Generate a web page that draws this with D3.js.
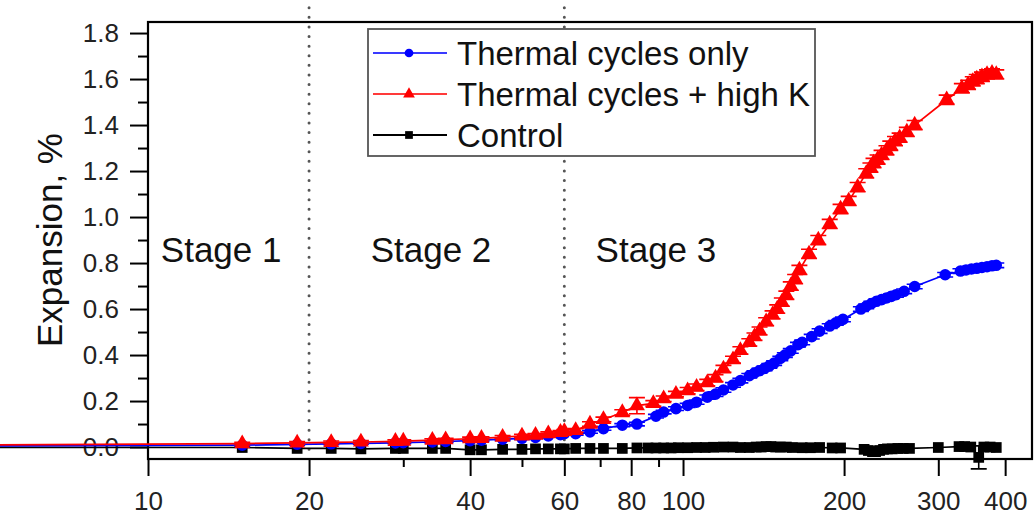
<!DOCTYPE html>
<html>
<head>
<meta charset="utf-8">
<script src="https://d3js.org/d3.v7.min.js"></script>
<style>
  body { margin: 0; background: #fff; }
  svg { display: block; font-family: "Liberation Sans", Arial, sans-serif; }
  .axis text { font-size: 26px; fill: #222; }
  .axis line { stroke: #000; stroke-width: 2px; }
  .axis path { display: none; }
</style>
</head>
<body>
<div id="chart"></div>
<script>

// x ticks (days, log scale)
const xMajorTicks = [10, 20, 40, 60, 80, 100, 200, 300, 400];
const xMinorTicks = [30, 50, 70, 90];
const yMajorTicks = [0.0, 0.2, 0.4, 0.6, 0.8, 1.0, 1.2, 1.4, 1.6, 1.8];
const yMinorTicks = [0.1, 0.3, 0.5, 0.7, 0.9, 1.1, 1.3, 1.5, 1.7];

const stageBounds = [20, 60];
const stageLabels = [["Stage 1", 13.7], ["Stage 2", 33.8], ["Stage 3", 89]];

const seriesNames = ["Thermal cycles only", "Thermal cycles + high K", "Control"];

// [day, expansion %, error]
const cyclesOnly = [
  [1, 0.0, 0], [15, 0.008, 0.004], [19, 0.012, 0.004], [22, 0.014, 0.004], [25, 0.016, 0.004],
  [29, 0.018, 0.004], [30, 0.019, 0.004], [34, 0.022, 0.004], [36, 0.024, 0.004], [40, 0.028, 0.005],
  [42, 0.03, 0.005], [46, 0.034, 0.005], [50, 0.038, 0.005], [53, 0.042, 0.005], [56, 0.048, 0.005],
  [59, 0.054, 0.005], [60, 0.058, 0.006], [63, 0.058, 0.006], [67, 0.066, 0.006], [71, 0.08, 0.007],
  [77, 0.095, 0.007], [82, 0.10, 0.008], [89, 0.134, 0.008], [92, 0.152, 0.008], [97, 0.167, 0.008],
  [102, 0.181, 0.009], [106, 0.195, 0.009], [111, 0.217, 0.009], [115, 0.23, 0.01], [119, 0.248, 0.01],
  [124, 0.27, 0.01], [128, 0.289, 0.01], [133, 0.31, 0.01], [136, 0.322, 0.01], [139, 0.332, 0.01],
  [142, 0.342, 0.01], [145, 0.353, 0.01], [148, 0.365, 0.01], [152, 0.385, 0.01], [155, 0.40, 0.01],
  [159, 0.418, 0.01], [164, 0.445, 0.01], [167, 0.455, 0.01], [174, 0.48, 0.01], [180, 0.504, 0.01],
  [188, 0.526, 0.01], [193, 0.54, 0.01], [199, 0.555, 0.01], [215, 0.60, 0.01], [220, 0.612, 0.01],
  [225, 0.624, 0.01], [230, 0.634, 0.01], [235, 0.641, 0.01], [240, 0.648, 0.01], [245, 0.655, 0.01],
  [250, 0.662, 0.01], [259, 0.677, 0.01], [271, 0.698, 0.01], [309, 0.749, 0.01], [330, 0.765, 0.01],
  [338, 0.77, 0.01], [346, 0.774, 0.01], [354, 0.777, 0.01], [362, 0.781, 0.01], [370, 0.784, 0.01],
  [378, 0.788, 0.01], [385, 0.79, 0.01]
];

const cyclesHighK = [
  [1, 0.0, 0], [15, 0.015, 0.006], [19, 0.018, 0.006], [22, 0.02, 0.006], [25, 0.022, 0.006],
  [29, 0.025, 0.006], [30, 0.026, 0.006], [34, 0.03, 0.006], [36, 0.032, 0.006], [40, 0.036, 0.007],
  [42, 0.038, 0.007], [46, 0.043, 0.007], [50, 0.048, 0.007], [53, 0.052, 0.007], [56, 0.058, 0.008],
  [59, 0.064, 0.008], [60, 0.068, 0.008], [63, 0.072, 0.008], [67, 0.10, 0.01], [71, 0.12, 0.01],
  [77, 0.15, 0.012], [82, 0.18, 0.035], [88, 0.19, 0.012], [92, 0.21, 0.012], [97, 0.23, 0.012],
  [102, 0.245, 0.014], [106, 0.26, 0.014], [111, 0.28, 0.014], [115, 0.30, 0.015], [119, 0.34, 0.015],
  [124, 0.38, 0.015], [128, 0.42, 0.016], [133, 0.455, 0.016], [136, 0.48, 0.016], [139, 0.505, 0.017],
  [143, 0.545, 0.017], [147, 0.575, 0.017], [150, 0.60, 0.018], [153, 0.63, 0.018], [156, 0.66, 0.018],
  [159, 0.70, 0.018], [162, 0.73, 0.02], [165, 0.77, 0.02], [172, 0.84, 0.02], [179, 0.90, 0.02],
  [188, 0.97, 0.02], [197, 1.035, 0.02], [204, 1.07, 0.02], [212, 1.13, 0.02], [220, 1.19, 0.02],
  [224, 1.215, 0.02], [227, 1.235, 0.02], [231, 1.25, 0.02], [235, 1.27, 0.02], [240, 1.29, 0.02],
  [244, 1.31, 0.02], [249, 1.33, 0.02], [254, 1.345, 0.02], [262, 1.37, 0.02], [271, 1.40, 0.02],
  [311, 1.51, 0.02], [332, 1.56, 0.02], [341, 1.575, 0.02], [348, 1.59, 0.02], [354, 1.60, 0.02],
  [362, 1.61, 0.02], [370, 1.62, 0.02], [378, 1.625, 0.02], [385, 1.62, 0.02]
];

const control = [
  [1, 0.0, 0], [15, -0.002, 0], [19, -0.006, 0], [22, -0.006, 0], [25, -0.008, 0],
  [29, -0.006, 0], [30, -0.006, 0], [34, -0.006, 0], [36, -0.006, 0], [40, -0.012, 0],
  [42, -0.012, 0], [46, -0.01, 0], [50, -0.01, 0], [53, -0.008, 0], [56, -0.008, 0],
  [59, -0.008, 0], [60, -0.008, 0], [63, -0.006, 0], [67, -0.006, 0], [71, -0.006, 0],
  [77, -0.006, 0], [82, -0.004, 0], [86, -0.004, 0], [89, -0.004, 0], [92, -0.004, 0],
  [95, -0.004, 0], [98, -0.003, 0], [102, -0.003, 0], [106, -0.002, 0], [110, -0.002, 0],
  [114, -0.001, 0], [119, 0.0, 0], [124, 0.0, 0], [128, -0.002, 0], [133, -0.002, 0],
  [137, 0.0, 0], [140, 0.0, 0], [143, 0.002, 0], [146, 0.002, 0], [149, 0.0, 0],
  [152, 0.0, 0], [156, 0.0, 0], [160, -0.002, 0], [167, -0.003, 0], [173, -0.003, 0],
  [180, -0.002, 0], [190, -0.004, 0], [197, -0.004, 0], [218, -0.01, 0], [222, -0.015, 0.008],
  [226, -0.02, 0.012], [229, -0.02, 0.01], [233, -0.015, 0.008], [237, -0.01, 0], [241, -0.008, 0],
  [246, -0.008, 0], [252, -0.006, 0], [258, -0.006, 0], [265, -0.006, 0], [300, -0.002, 0],
  [328, 0.002, 0], [336, 0.002, 0], [345, 0.0, 0], [357, -0.045, 0.05], [365, 0.0, 0],
  [375, 0.0, 0], [385, -0.002, 0]
];

const W = 1034, H = 517;
const margin = {top: 22, right: 2, bottom: 58, left: 148};
const width = W - margin.left - margin.right;
const height = H - margin.top - margin.bottom;

const svg = d3.select("#chart").append("svg")
    .attr("width", W)
    .attr("height", H);

// soften the marks a little, like the scanned original
svg.append("defs").append("filter")
    .attr("id", "soft")
    .append("feGaussianBlur")
    .attr("stdDeviation", 0.6);

const g = svg.append("g")
    .attr("transform", `translate(${margin.left},${margin.top})`);

const x = d3.scaleLog().domain([10, 449]).range([0, width]);
const y = d3.scaleLinear().domain([-0.052, 1.848]).range([height, 0]);

// stage separators
g.selectAll(".stage-line")
    .data(stageBounds)
    .enter().append("line")
    .attr("class", "stage-line")
    .attr("x1", d => x(d)).attr("x2", d => x(d))
    .attr("y1", y(1.91)).attr("y2", y(-0.03))
    .attr("stroke", "#555")
    .attr("stroke-width", 3)
    .attr("stroke-linecap", "round")
    .attr("stroke-dasharray", "0,9.6");

g.selectAll(".stage-label")
    .data(stageLabels)
    .enter().append("text")
    .attr("class", "stage-label")
    .attr("x", d => x(d[1]))
    .attr("y", y(0.804))
    .attr("text-anchor", "middle")
    .style("font-size", "35px")
    .attr("fill", "#111")
    .text(d => d[0]);

// axes
const xAxis = d3.axisBottom(x).tickValues(xMajorTicks).tickFormat(d3.format("d"))
    .tickSize(17).tickPadding(16);
const xMinor = d3.axisBottom(x).tickValues(xMinorTicks).tickFormat("").tickSize(8);
const yAxis = d3.axisLeft(y).tickValues(yMajorTicks).tickFormat(d3.format(".1f"))
    .tickSize(18).tickPadding(11);
const yMinor = d3.axisLeft(y).tickValues(yMinorTicks).tickFormat("").tickSize(10);

g.append("g").attr("class", "axis").attr("transform", `translate(0,${height})`).call(xAxis);
g.append("g").attr("class", "axis").attr("transform", `translate(0,${height})`).call(xMinor);
g.append("g").attr("class", "axis").call(yAxis);
g.append("g").attr("class", "axis").call(yMinor);

// frame
g.append("rect")
    .attr("width", width).attr("height", height)
    .attr("fill", "none")
    .attr("stroke", "#000")
    .attr("stroke-width", 2.2);

// y label
svg.append("text")
    .attr("transform", `translate(62,${margin.top + y(0.9)}) rotate(-90)`)
    .attr("text-anchor", "middle")
    .style("font-size", "35px")
    .attr("fill", "#111")
    .text("Expansion, %");

const line = d3.line().x(d => x(d[0])).y(d => y(d[1]));

function drawSeries(data, color, shape, size) {
    const s = g.append("g").attr("filter", "url(#soft)");
    s.append("path")
        .datum(data)
        .attr("d", line)
        .attr("fill", "none")
        .attr("stroke", color)
        .attr("stroke-width", 1.7);

    const withErr = data.filter(d => d[2] > 0);
    s.selectAll(".eb").data(withErr).enter().append("path")
        .attr("d", d => {
            const cx = x(d[0]), y0 = y(d[1] - d[2]), y1 = y(d[1] + d[2]);
            return `M${cx},${y0}V${y1}M${cx - 8},${y0}H${cx + 8}M${cx - 8},${y1}H${cx + 8}`;
        })
        .attr("stroke", color)
        .attr("stroke-width", 1.6)
        .attr("fill", "none");

    s.selectAll(".mk").data(data.filter(d => d[0] >= 10)).enter().append("path")
        .attr("transform", d => `translate(${x(d[0])},${y(d[1])})`)
        .attr("d", d3.symbol().type(shape).size(size))
        .attr("fill", color);
}

drawSeries(control, "#000", d3.symbolSquare, 115);
drawSeries(cyclesOnly, "#0000ff", d3.symbolCircle, 105);
drawSeries(cyclesHighK, "#ff0000", d3.symbolTriangle, 110);

// legend
const legend = svg.append("g").attr("transform", "translate(368,29)");
legend.append("rect")
    .attr("width", 447).attr("height", 127)
    .attr("fill", "#fff")
    .attr("stroke", "#555")
    .attr("stroke-width", 1.8);

const legendItems = [
    [seriesNames[0], "#3a3aff", "#0000ff", d3.symbolCircle],
    [seriesNames[1], "#ff3a3a", "#ff0000", d3.symbolTriangle],
    [seriesNames[2], "#000", "#000", d3.symbolSquare]
];

const rows = legend.selectAll(".row").data(legendItems).enter().append("g")
    .attr("transform", (d, i) => `translate(0,${24 + i * 41})`);
rows.append("line")
    .attr("x1", 5).attr("x2", 79)
    .attr("stroke", d => d[1]).attr("stroke-width", 1.8);
rows.append("path")
    .attr("transform", "translate(41,0)")
    .attr("d", d => d3.symbol().type(d[3]).size(60)())
    .attr("fill", d => d[2]);
rows.append("text")
    .attr("x", 89)
    .attr("dy", "0.35em")
    .style("font-size", "33px")
    .attr("fill", "#111")
    .text(d => d[0]);

</script>
</body>
</html>
